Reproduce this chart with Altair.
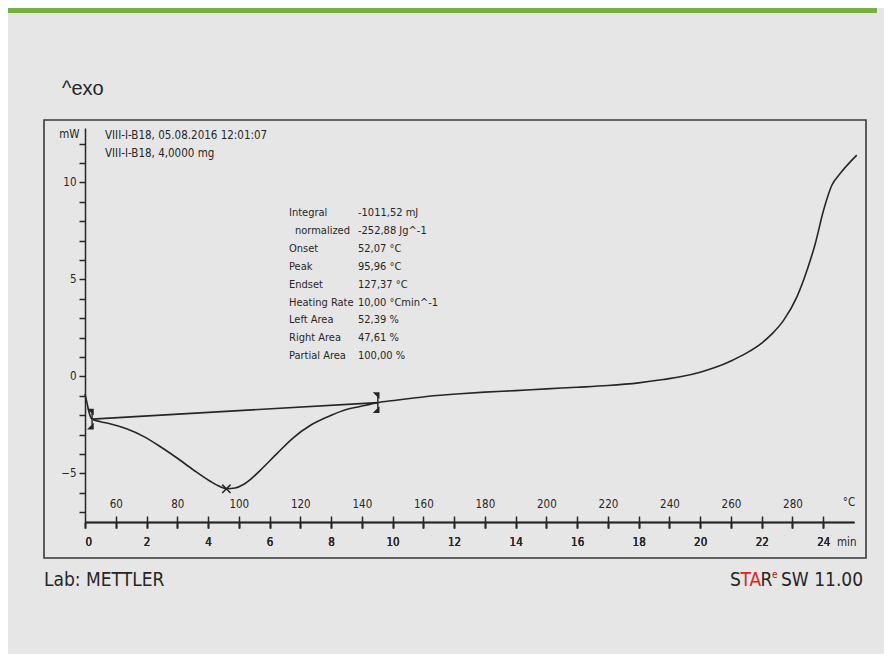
import altair as alt
import pandas as pd

# ---------------- data ----------------
time_min = [0.00, 0.07, 0.14, 0.23, 0.50, 0.81, 1.35, 1.90, 2.44, 2.98, 3.52, 4.07,
            4.35, 4.61, 4.88, 5.15, 5.42, 5.69, 6.23, 6.77, 7.32, 7.86, 8.40, 8.94,
            9.52, 10.03, 11.11, 12.20, 13.00, 14.00, 15.00, 16.00, 17.00, 18.00,
            18.80, 19.35, 20.00, 20.50, 21.00, 21.50, 22.00, 22.35, 22.71,
            23.14, 23.47, 23.74, 24.01, 24.28, 24.55, 25.09]
heat_flow_mw = [-0.90, -1.40, -1.90, -2.20, -2.33, -2.44, -2.70, -3.09, -3.61, -4.19,
                -4.81, -5.40, -5.65, -5.79, -5.75, -5.57, -5.25, -4.85, -3.99, -3.16,
                -2.53, -2.10, -1.75, -1.55, -1.35, -1.24, -1.03, -0.89, -0.81, -0.73,
                -0.64, -0.56, -0.47, -0.33, -0.16, -0.02, 0.22, 0.47, 0.80,
                1.20, 1.72, 2.22, 2.89, 4.09, 5.46, 6.84, 8.56, 9.85, 10.45, 11.40]

baseline_time = [0.23, 9.52]
baseline_mw = [-2.20, -1.35]
limit_time = [0.23, 9.52]
limit_mw = [-2.20, -1.35]
peak_temp_c = [95.96]
peak_mw = [-5.79]

time_ticks = list(range(0, 25))
temp_ticks = list(range(60, 300, 10))
mw_ticks = list(range(-7, 13))

header_lines = ["VIII-I-B18, 05.08.2016 12:01:07", "VIII-I-B18, 4,0000 mg"]
result_labels = ["Integral", "normalized", "Onset", "Peak", "Endset",
                 "Heating Rate", "Left Area", "Right Area", "Partial Area"]
result_values = ["-1011,52 mJ", "-252,88 Jg^-1", "52,07 °C", "95,96 °C", "127,37 °C",
                 "10,00 °Cmin^-1", "52,39 %", "47,61 %", "100,00 %"]
indented_label = "normalized"

# ---------------- styling ----------------
W, H = 769, 394
NARROW = "DejaVu Sans Condensed, sans-serif"
SANS = "Liberation Sans, Arial, sans-serif"
INK = "#262626"
RED = "#e2231a"
BG = "#e6e6e6"
FS = 11.5
RFS = 11

curve_df = pd.DataFrame({"t": time_min, "v": heat_flow_mw})
base_df = pd.DataFrame({"t": baseline_time, "v": baseline_mw})
limit_df = pd.DataFrame({"t": limit_time, "v": limit_mw})
peak_df = pd.DataFrame({"T": peak_temp_c, "v": peak_mw})
one = pd.DataFrame({"k": [0]})

axis_common = dict(domainColor=INK, tickColor=INK, domainWidth=1.5, tickWidth=1.5,
                   labelFont=NARROW, labelFontSize=FS, labelColor=INK, grid=False)

x_time = alt.X("t:Q",
               scale=alt.Scale(domain=[0, 25], nice=False, zero=False),
               axis=alt.Axis(orient="bottom", values=time_ticks,
                             labelExpr="datum.value % 2 == 0 ? datum.label : ''",
                             tickSize=6, labelPadding=8, title=None, **axis_common))

y_mw = alt.Y("v:Q",
             scale=alt.Scale(domain=[-7.5, 12.8], nice=False, zero=False),
             axis=alt.Axis(values=mw_ticks,
                           labelExpr="datum.value % 5 == 0 ? datum.label : ''",
                           tickSize=6, labelPadding=3, title="mW", titleAngle=0,
                           titleX=-6, titleY=6, titleAlign="right",
                           titleBaseline="middle", titleFont=NARROW,
                           titleFontSize=FS, titleFontWeight="normal",
                           titleColor=INK, **axis_common))

x_temp = alt.X("T:Q",
               scale=alt.Scale(domain=[50, 300], nice=False, zero=False),
               axis=alt.Axis(orient="top", offset=-H, values=temp_ticks,
                             labelExpr="datum.value % 20 == 0 ? datum.label : ''",
                             tickSize=6, labelPadding=7, domain=False, title=None,
                             **axis_common))

curve = alt.Chart(curve_df).mark_line(color=INK, strokeWidth=1.6,
                                      interpolate="monotone").encode(x=x_time, y=y_mw)
base = alt.Chart(base_df).mark_line(color=INK, strokeWidth=1.6).encode(x=x_time, y=y_mw)
limits = alt.Chart(limit_df).mark_point(
    shape="M0,-1L0,1M-0.35,-1L0.1,-1L0.1,-0.55ZM-0.35,1L0.1,1L0.1,0.55Z",
    size=380, filled=True, fill=INK, stroke=INK, strokeWidth=1.4, opacity=1
).encode(x=x_time, y=y_mw)

peak = alt.Chart(peak_df).mark_point(
    shape="M-1,-1L1,1M-1,1L1,-1", size=70, filled=False, stroke=INK,
    strokeWidth=1.5, opacity=1
).encode(x=x_temp, y=y_mw)

def txt(text, x, y, size=FS, font=NARROW, color=INK, align="left",
        baseline="middle", **kw):
    return alt.Chart(one).mark_text(text=text, font=font, fontSize=size, color=color,
                                    align=align, baseline=baseline, **kw).encode(
        x=alt.value(x), y=alt.value(y))

frame = alt.Chart(one).mark_rect(filled=False, stroke="#3a3a3a", strokeWidth=1.6).encode(
    x=alt.value(-41), x2=alt.value(781), y=alt.value(-8), y2=alt.value(430))
green = alt.Chart(one).mark_rect(color="#77b142").encode(
    x=alt.value(-77), x2=alt.value(792), y=alt.value(-120), y2=alt.value(-115))

texts = [
    txt("^exo", -23, -39, size=20, font=SANS),
    txt(header_lines, 20, 1.5, baseline="top", lineHeight=18.5),
    txt("°C", 764, 375, align="center"),
    txt("min", 752, 415),
    txt("Lab: METTLER", -41, 452, size=19),
    txt("S", 645, 452, size=19),
    txt("TA", 655.5, 452, size=19, color=RED),
    txt("R", 675.5, 452, size=19),
    txt("e", 687, 447, size=10, color="#a01818"),
    txt("SW 11.00", 696, 452, size=19),
]

# results block: one row per label/value pair
ROW0, ROWSTEP = 85.0, 17.9
for i, (lab, val) in enumerate(zip(result_labels, result_values)):
    yy = ROW0 + i * ROWSTEP
    texts.append(txt(lab, 210 if lab == indented_label else 204, yy, size=RFS))
    texts.append(txt(val, 273, yy, size=RFS))

layers = alt.layer(curve, peak).resolve_scale(x="independent")
chart = alt.layer(
    green, frame, layers, base, limits, *texts
).resolve_scale(x="independent").properties(
    width=W, height=H,
    autosize=alt.AutoSizeParams(type="none"),
    padding={"left": 77, "top": 120, "right": 30, "bottom": 132},
    background=BG,
).configure_view(stroke=None)

chart.save("out.html", embed_options={"renderer": "svg", "actions": False})
